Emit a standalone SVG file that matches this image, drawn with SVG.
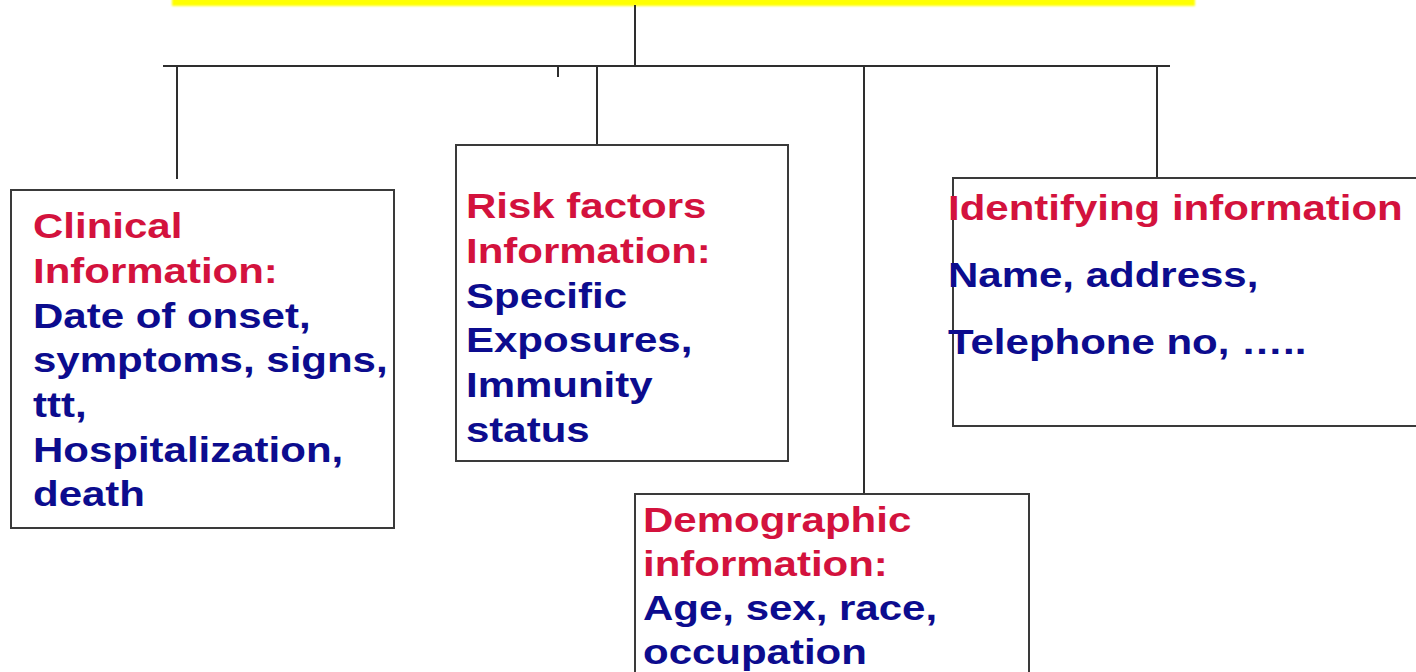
<svg xmlns="http://www.w3.org/2000/svg" width="1416" height="672" viewBox="0 0 1416 672">
<defs>
<filter id="soft" x="-5%" y="-100%" width="110%" height="300%"><feGaussianBlur stdDeviation="1.2"/></filter>
</defs>
<style>
.box{fill:#ffffff;stroke:#3a3a3a;stroke-width:2}
.ln{fill:none;stroke:#2e2e2e;stroke-width:2}
.t{font-family:"Liberation Sans",Arial,sans-serif;font-weight:bold;font-size:35px}
.r{fill:#d3123d}
.b{fill:#0c0c8e}
</style>
<rect width="1416" height="672" fill="#ffffff"/>
<g id="title-bar">
<rect x="172" y="-4" width="1023" height="10" fill="#ffff00" filter="url(#soft)"/>
</g>
<g id="connectors">
<line class="ln" x1="635" y1="5" x2="635" y2="66" stroke="#555"/>
<line class="ln" x1="163" y1="66" x2="1170" y2="66"/>
<line class="ln" x1="558" y1="66" x2="558" y2="77" stroke="#666"/>
<line class="ln" x1="177" y1="66" x2="177" y2="179"/>
<line class="ln" x1="597" y1="66" x2="597" y2="145"/>
<line class="ln" x1="864" y1="66" x2="864" y2="494"/>
<line class="ln" x1="1157" y1="66" x2="1157" y2="179" stroke="#555"/>
</g>
<g id="clinical">
<rect class="box" x="11" y="190" width="383" height="338"/>
<g transform="translate(33 0) scale(1.2 1)">
<text class="t r" x="0" y="238">Clinical</text>
<text class="t r" x="0" y="283">Information:</text>
<text class="t b" x="0" y="328">Date of onset,</text>
<text class="t b" x="0" y="372">symptoms, signs,</text>
<text class="t b" x="0" y="417">ttt,</text>
<text class="t b" x="0" y="462">Hospitalization,</text>
<text class="t b" x="0" y="506">death</text>
</g>
</g>
<g id="risk">
<rect class="box" x="456" y="145" width="332" height="316"/>
<g transform="translate(466 0) scale(1.2 1)">
<text class="t r" x="0" y="218">Risk factors</text>
<text class="t r" x="0" y="263">Information:</text>
<text class="t b" x="0" y="308">Specific</text>
<text class="t b" x="0" y="352">Exposures,</text>
<text class="t b" x="0" y="397">Immunity</text>
<text class="t b" x="0" y="442">status</text>
</g>
</g>
<g id="identifying">
<rect class="box" x="953" y="178" width="470" height="248"/>
<g transform="translate(948 0) scale(1.2 1)">
<text class="t r" x="0" y="220">Identifying information</text>
<text class="t b" x="0" y="287">Name, address,</text>
<text class="t b" x="0" y="354">Telephone no, …..</text>
</g>
</g>
<g id="demographic">
<rect class="box" x="635" y="494" width="394" height="190"/>
<g transform="translate(643 0) scale(1.2 1)">
<text class="t r" x="0" y="532">Demographic</text>
<text class="t r" x="0" y="576">information:</text>
<text class="t b" x="0" y="620">Age, sex, race,</text>
<text class="t b" x="0" y="664">occupation</text>
</g>
</g>
</svg>
